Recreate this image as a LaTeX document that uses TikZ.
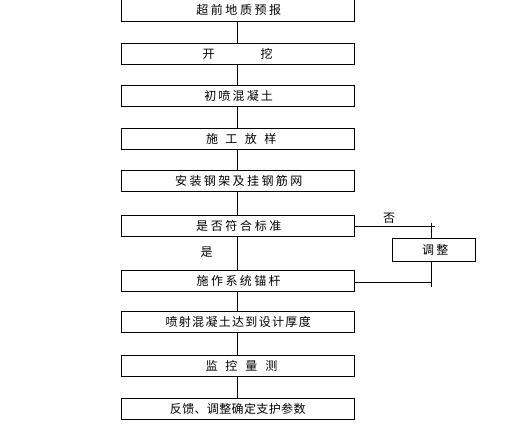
\documentclass[tikz,border=0pt]{standalone}
\usepackage{fontspec}
\newfontfamily\cjk{Noto Sans CJK SC}
\newcommand{\sptxt}[3]{{\cjk\fontsize{12pt}{14pt}\selectfont\addfontfeature{LetterSpace=#2}\kern#1pt #3}}
\begin{document}
\begin{tikzpicture}[x=1pt,y=-1pt,
  stepbox/.style={draw=black,line width=0.9pt,fill=white,minimum width=233pt,minimum height=21pt,inner sep=0pt},
  adjbox/.style={draw=black,line width=0.9pt,fill=white,minimum width=83.4pt,minimum height=23pt,inner sep=0pt},
  conn/.style={draw=black,line width=0.9pt},
  lbl/.style={inner sep=0pt}]
\useasboundingbox (0,0) rectangle (508,427);
\node[stepbox,minimum height=22pt] (b1) at (237.5,10) {\sptxt{2.5}{21}{超前地质预报}};
\node[stepbox] (b2) at (237.5,53.8) {\sptxt{0}{0}{开\hspace{46pt}挖}};
\node[stepbox] (b3) at (237.5,96) {\sptxt{2.2}{18}{初喷混凝土}};
\node[stepbox] (b4) at (237.5,139.2) {\sptxt{7.4}{62}{施工放样}};
\node[stepbox] (b5) at (237.5,181.2) {\sptxt{2.4}{20}{安装钢架及挂钢筋网}};
\node[stepbox] (b6) at (237.5,225.5) {\sptxt{2.6}{22}{是否符合标准}};
\node[stepbox] (b7) at (237.5,281) {\sptxt{2.4}{20}{施作系统锚杆}};
\node[stepbox] (b8) at (237.5,322.3) {\sptxt{1.3}{11}{喷射混凝土达到设计厚度}};
\node[stepbox] (b9) at (237.5,365.9) {\sptxt{7.9}{66}{监控量测}};
\node[stepbox] (b10) at (237.5,408.8) {\sptxt{0.4}{3}{反馈、调整确定支护参数}};
\foreach \a/\b in {b1/b2,b2/b3,b3/b4,b4/b5,b5/b6,b6/b7,b7/b8,b8/b9,b9/b10}
  \draw[conn] (\a.south) -- (\b.north);
\coordinate (r1) at (434.5,226);
\coordinate (vt) at (431.3,223.3);
\coordinate (vb) at (431.3,286.7);
\coordinate (r2) at (431.3,282);
\draw[conn] (b6.east |- r1) -- (r1);
\draw[conn] (vt) -- (vb);
\draw[conn] (b7.east |- r2) -- (r2);
\node[adjbox] (adj) at (434,249.8) {\sptxt{2.3}{19}{调整}};
\node[lbl] (no) at (389,218) {\cjk\fontsize{12pt}{14pt}\selectfont 否};
\node[lbl] (yes) at (206.7,251.7) {\cjk\fontsize{12pt}{14pt}\selectfont 是};
\end{tikzpicture}
\end{document}
